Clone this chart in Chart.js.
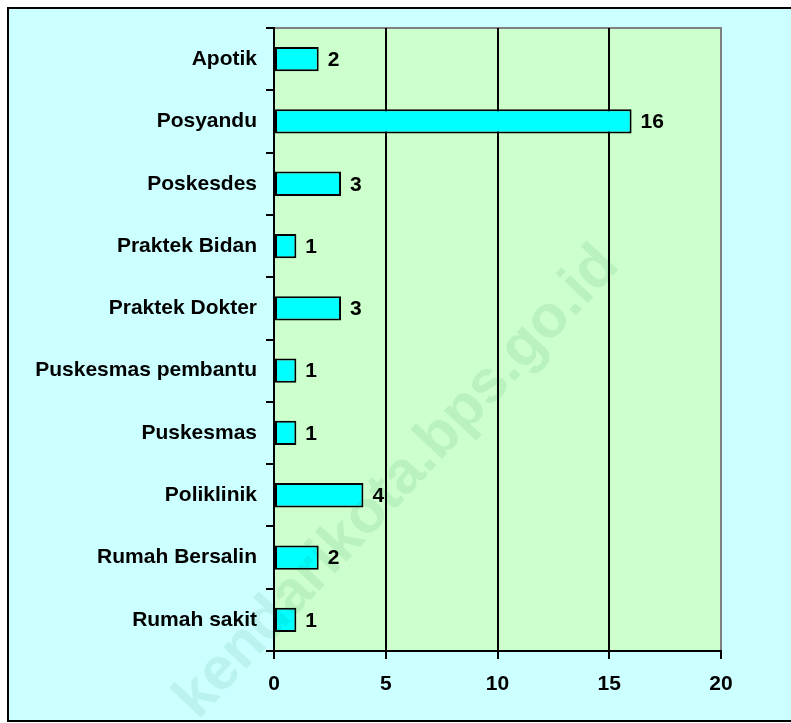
<!DOCTYPE html>
<html lang="id">
<head>
  <meta charset="UTF-8" />
  <title>Sarana Kesehatan</title>
  <script src="https://cdn.jsdelivr.net/npm/chart.js@4.4.0/dist/chart.umd.min.js"></script>
  <style>
    html, body {
      margin: 0;
      padding: 0;
      background: #ffffff;
    }
    canvas {
      display: block;
    }
  </style>
</head>
<body>
  <canvas id="chart" width="791" height="723"></canvas>

  <script>
    // data
    const categories = ['Apotik', 'Posyandu', 'Poskesdes', 'Praktek Bidan', 'Praktek Dokter',
      'Puskesmas pembantu', 'Puskesmas', 'Poliklinik', 'Rumah Bersalin', 'Rumah sakit'];
    const values = [2, 16, 3, 1, 3, 1, 1, 4, 2, 1];
    const xTicks = [0, 5, 10, 15, 20];
    const watermark = 'kendarikota.bps.go.id';

    const FONT = '"Liberation Sans", Arial, sans-serif';

    // backgrounds, outer frame, plot area
    const backgroundPlugin = {
      id: 'backgrounds',
      beforeDraw(chart) {
        const c = chart.ctx;
        const a = chart.chartArea;
        c.save();
        c.fillStyle = '#ffffff';
        c.fillRect(0, 0, chart.width, chart.height);
        c.fillStyle = '#ccffff';
        c.fillRect(8, 8, chart.width, 713);
        c.strokeStyle = '#000000';
        c.lineWidth = 2;
        c.strokeRect(8, 8, chart.width + 10, 713);
        c.fillStyle = '#ccffcc';
        c.fillRect(a.left, a.top, a.right - a.left, a.bottom - a.top);
        c.strokeStyle = '#808080';
        c.beginPath();
        c.moveTo(a.left, a.top);
        c.lineTo(a.right + 1, a.top);
        c.stroke();
        c.restore();
      }
    };

    // value labels next to bars
    const valueLabels = {
      id: 'valueLabels',
      afterDatasetsDraw(chart) {
        const c = chart.ctx;
        const meta = chart.getDatasetMeta(0);
        c.save();
        c.font = 'bold 21px ' + FONT;
        c.fillStyle = '#000000';
        c.textAlign = 'left';
        c.textBaseline = 'middle';
        meta.data.forEach((bar, i) => {
          c.fillText(String(values[i]), bar.x + 9, bar.y + 1);
        });
        c.restore();
      }
    };

    // faint diagonal watermark
    const watermarkPlugin = {
      id: 'watermark',
      afterDraw(chart) {
        const c = chart.ctx;
        c.save();
        c.translate(621, 267);
        c.rotate(-47 * Math.PI / 180);
        c.font = 'bold 60px ' + FONT;
        c.fillStyle = 'rgba(0, 110, 70, 0.09)';
        c.textAlign = 'right';
        c.textBaseline = 'alphabetic';
        c.fillText(watermark, 0, 0);
        c.restore();
      }
    };

    new Chart(document.getElementById('chart'), {
      type: 'bar',
      data: {
        labels: categories,
        datasets: [{
          data: values,
          backgroundColor: '#00ffff',
          borderColor: '#000000',
          borderWidth: 2,
          borderSkipped: false,
          barPercentage: 0.39,
          categoryPercentage: 1
        }]
      },
      options: {
        indexAxis: 'y',
        responsive: false,
        animation: false,
        devicePixelRatio: 1,
        layout: {
          padding: { top: 28, right: 70, left: 0, bottom: 0 }
        },
        plugins: {
          legend: { display: false },
          tooltip: { enabled: false }
        },
        scales: {
          x: {
            min: 0,
            max: 20,
            afterBuildTicks: s => { s.ticks = xTicks.map(v => ({ value: v })); },
            afterFit: s => { s.height = 72; },
            ticks: {
              color: '#000000',
              font: { family: FONT, size: 21, weight: 'bold' },
              padding: 13,
              maxRotation: 0
            },
            grid: {
              color: ctx => (ctx.tick && ctx.tick.value === 20) ? '#808080' : '#000000',
              tickColor: '#000000',
              lineWidth: 2,
              tickLength: 8
            },
            border: { color: '#000000', width: 2 }
          },
          y: {
            afterFit: s => { s.width = 274; },
            ticks: {
              color: '#000000',
              font: { family: FONT, size: 21, weight: 'bold' },
              padding: 9,
              autoSkip: false
            },
            grid: {
              offset: true,
              drawOnChartArea: false,
              color: '#000000',
              lineWidth: 2,
              tickLength: 8
            },
            border: { color: '#000000', width: 2 }
          }
        }
      },
      plugins: [backgroundPlugin, valueLabels, watermarkPlugin]
    });
  </script>
</body>
</html>
